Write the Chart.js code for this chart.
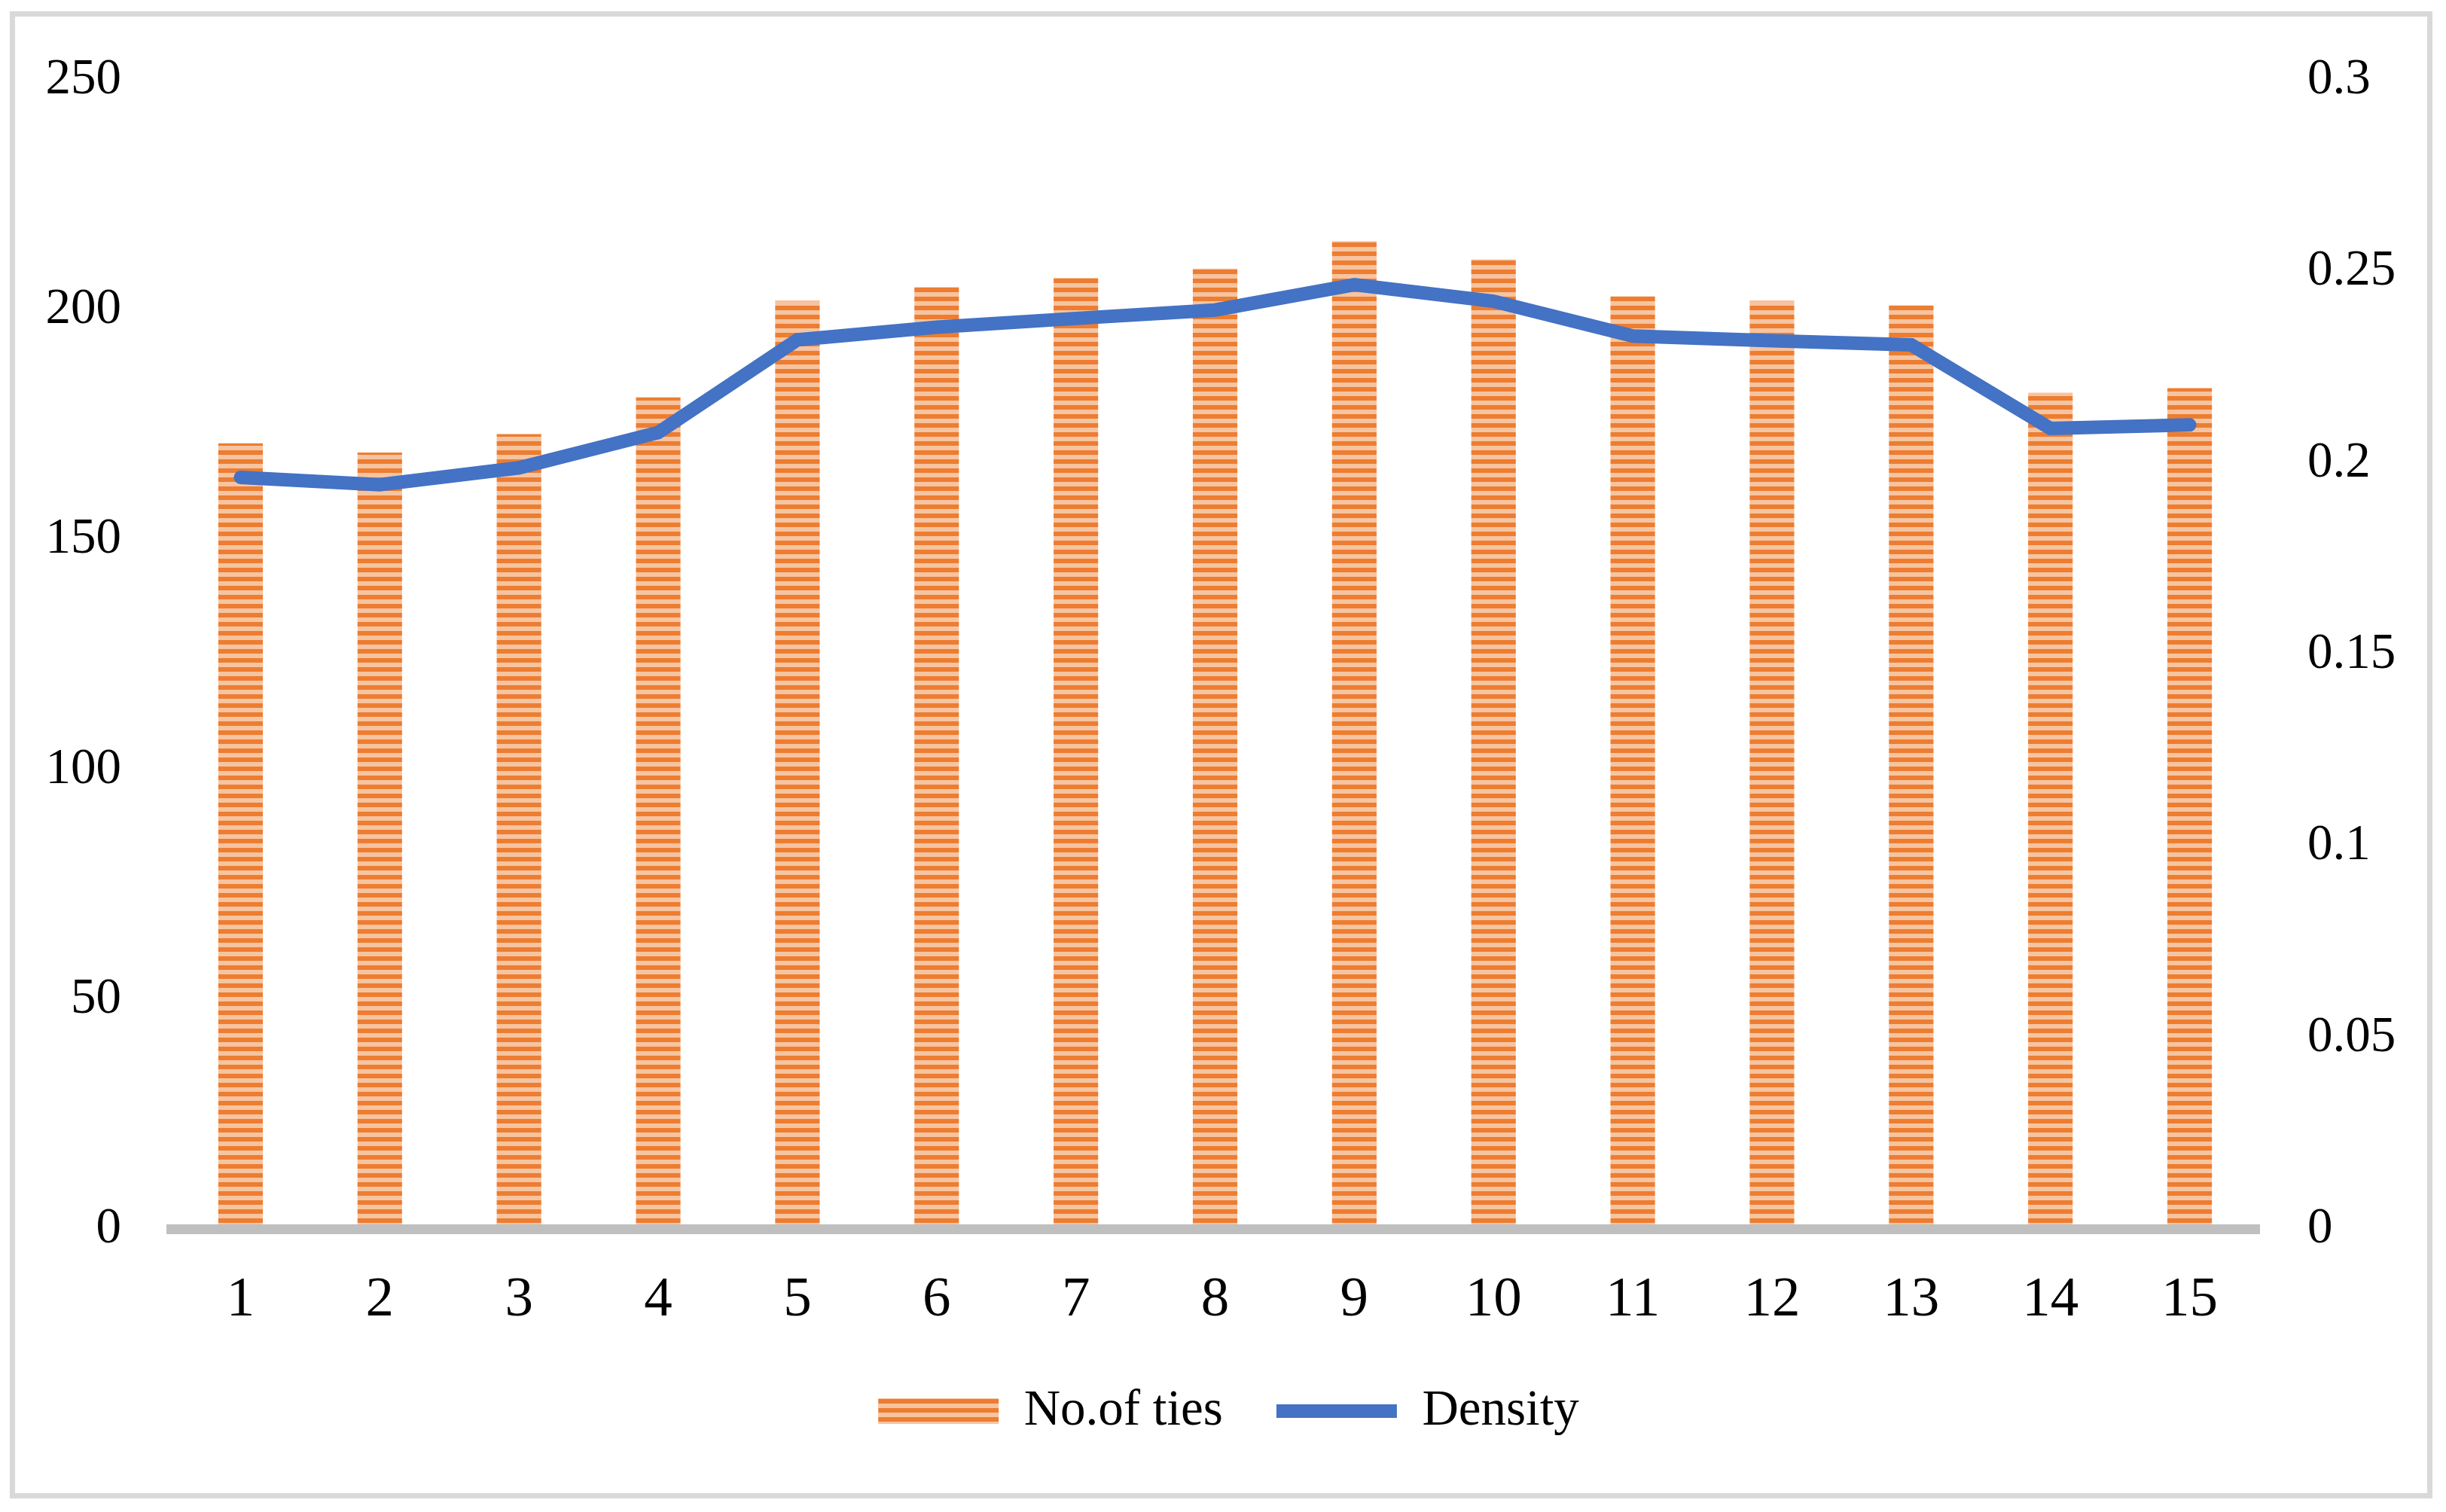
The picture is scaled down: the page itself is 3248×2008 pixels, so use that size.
<!DOCTYPE html>
<html>
<head>
<meta charset="utf-8">
<script src="https://cdn.jsdelivr.net/npm/chart.js@4.4.1/dist/chart.umd.min.js"></script>
<style>
  html, body { margin: 0; padding: 0; background: #ffffff; }
  #frame {
    position: absolute; left: 13px; top: 15px;
    width: 3217px; height: 1975px;
    box-sizing: border-box; border: 7px solid #d9d9d9; background: #ffffff;
  }
  #chart { position: absolute; left: 0; top: 0; }
</style>
</head>
<body>
<div id="frame">
  <canvas id="chart" width="3203" height="1961"></canvas>
</div>
<script>
// categories (time slices)
var labels = ["1", "2", "3", "4", "5", "6", "7", "8", "9", "10", "11", "12", "13", "14", "15"];

// bars: number of ties
var ties = [171, 169, 173, 181, 202, 205, 207, 209, 215, 211, 203, 202, 201, 182, 183];

// line: network density
var density = [0.1963, 0.1944, 0.1988, 0.2080, 0.2322, 0.2355, 0.2378, 0.2400,
               0.2466, 0.2423, 0.2332, 0.2320, 0.2309, 0.2091, 0.2100];

// axis ticks
var tiesTicks = [0, 50, 100, 150, 200, 250];
var densityTicks = [0, 0.05, 0.1, 0.15, 0.2, 0.25, 0.3];

// striped fill for the bars (dark orange / light peach horizontal bands)
function stripes() {
    var c = document.createElement("canvas");
    c.width = 8;
    c.height = 12;
    var g = c.getContext("2d");
    g.fillStyle = "#f6c4a0";
    g.fillRect(0, 0, 8, 12);
    g.fillStyle = "#ed7d31";
    g.fillRect(0, 0, 8, 6);
    return g.createPattern(c, "repeat");
}
var barFill = stripes();

// fixed axis box; the label overflow should not push the plot area
function fixWidth(w) {
    return function (s) {
        s.width = w;
        s.paddingTop = 0;
        s.paddingBottom = 0;
    };
}

Chart.defaults.font.family = "'Liberation Serif', 'Times New Roman', serif";
Chart.defaults.color = "#000000";

var chart = new Chart(
    document.getElementById("chart"),
    {
        "type": "bar",
        "data": {
            "labels": labels,
            "datasets": [
                {
                    "type": "bar",
                    "label": "No.of ties",
                    "data": ties,
                    "yAxisID": "y",
                    "backgroundColor": barFill,
                    "borderWidth": 0,
                    "barPercentage": 0.32,
                    "categoryPercentage": 1,
                    "pointStyle": "rect",
                    "order": 1
                },
                {
                    "type": "line",
                    "label": "Density",
                    "data": density,
                    "yAxisID": "y1",
                    "borderColor": "#4472c4",
                    "backgroundColor": "#4472c4",
                    "borderWidth": 18,
                    "borderCapStyle": "round",
                    "borderJoinStyle": "miter",
                    "pointRadius": 0,
                    "pointHoverRadius": 0,
                    "pointStyle": "line",
                    "tension": 0,
                    "fill": false,
                    "order": 0
                }
            ]
        },
        "options": {
            "responsive": false,
            "animation": false,
            "layout": {
                "padding": { "top": 84.5, "bottom": 65.5, "left": 20, "right": 0 }
            },
            "plugins": {
                "tooltip": { "enabled": false },
                "legend": {
                    "position": "bottom",
                    "labels": {
                        "usePointStyle": true,
                        "pointStyleWidth": 160,
                        "boxHeight": 34,
                        "padding": 71,
                        "font": { "size": 67 },
                        "sort": function (a, b) { return a.datasetIndex - b.datasetIndex; }
                    }
                }
            },
            "scales": {
                "x": {
                    "grid": { "display": false },
                    "border": { "display": true, "color": "#bfbfbf", "width": 13, "z": 1 },
                    "ticks": { "padding": 41.5, "font": { "size": 75 }, "maxRotation": 0 },
                    "afterFit": function (s) { s.height = 137; }
                },
                "y": {
                    "position": "left",
                    "min": tiesTicks[0],
                    "max": tiesTicks[tiesTicks.length - 1],
                    "grid": { "display": false },
                    "border": { "display": false },
                    "ticks": { "padding": 58, "font": { "size": 67 } },
                    "afterBuildTicks": function (s) {
                        s.ticks = tiesTicks.map(function (v) { return { "value": v }; });
                    },
                    "afterFit": fixWidth(187)
                },
                "y1": {
                    "position": "right",
                    "min": densityTicks[0],
                    "max": densityTicks[densityTicks.length - 1],
                    "grid": { "display": false },
                    "border": { "display": false },
                    "ticks": {
                        "padding": 56,
                        "font": { "size": 67 },
                        "callback": function (v) { return String(Number(v.toFixed(2))); }
                    },
                    "afterBuildTicks": function (s) {
                        s.ticks = densityTicks.map(function (v) { return { "value": v }; });
                    },
                    "afterFit": fixWidth(223)
                }
            }
        }
    });
</script>
</body>
</html>
